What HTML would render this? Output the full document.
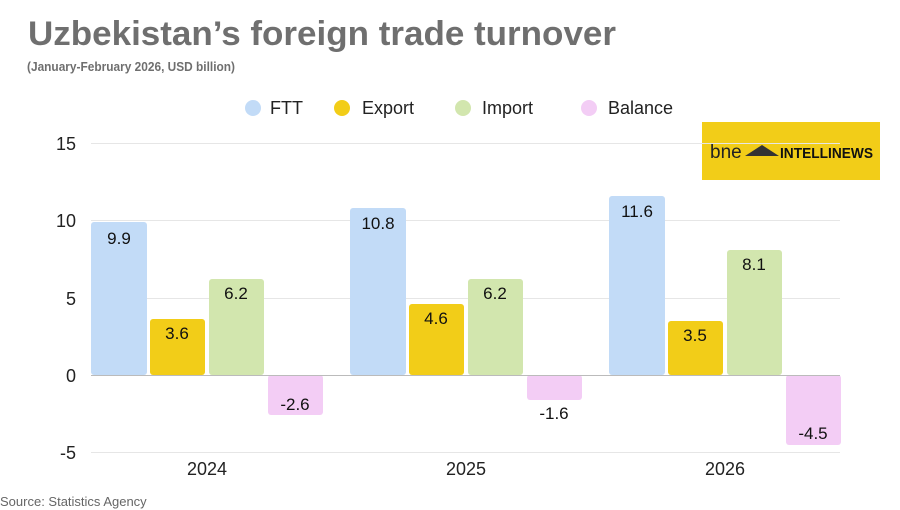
<!DOCTYPE html>
<html><head><meta charset="utf-8"><style>
html,body{margin:0;padding:0;background:#fff;}
svg{display:block;font-family:"Liberation Sans",sans-serif;}
</style></head><body>
<svg width="900" height="510" viewBox="0 0 900 510" xmlns="http://www.w3.org/2000/svg">
<rect width="900" height="510" fill="#fff"/>
<text x="28" y="45" font-size="34" font-weight="bold" fill="#6f6f6f" textLength="588" lengthAdjust="spacingAndGlyphs">Uzbekistan’s foreign trade turnover</text>
<text x="27" y="71" font-size="13" font-weight="bold" fill="#6f6f6f" textLength="208" lengthAdjust="spacingAndGlyphs">(January-February 2026, USD billion)</text>
<g font-size="18" fill="#222">
<circle cx="253" cy="108" r="8" fill="#c2dbf7"/><text x="270" y="114">FTT</text>
<circle cx="342" cy="108" r="8" fill="#f2cd18"/><text x="362" y="114">Export</text>
<circle cx="463" cy="108" r="8" fill="#d2e6ae"/><text x="482" y="114">Import</text>
<circle cx="589" cy="108" r="8" fill="#f3cdf5"/><text x="608" y="114">Balance</text>
</g>
<rect x="702" y="122" width="178" height="58" fill="#f2cd18"/>
<text x="710" y="158" font-size="19" fill="#222">bne</text>
<polygon points="745,156 762,145 779,156" fill="#333"/>
<text x="780" y="158" font-size="15" font-weight="bold" fill="#111" textLength="93" lengthAdjust="spacingAndGlyphs">INTELLINEWS</text>
<g stroke="#e6e6e6" stroke-width="1">
<line x1="91" y1="143.5" x2="840" y2="143.5"/>
<line x1="91" y1="220.5" x2="840" y2="220.5"/>
<line x1="91" y1="298.5" x2="840" y2="298.5"/>
<line x1="91" y1="452.5" x2="840" y2="452.5"/>
</g>
<g font-size="18" fill="#222" text-anchor="end">
<text x="76" y="150">15</text><text x="76" y="227">10</text><text x="76" y="305">5</text><text x="76" y="382">0</text><text x="76" y="459">-5</text>
</g>
<g font-size="17" fill="#111" text-anchor="middle">
<!-- 2024 -->
<rect x="91" y="222" width="56" height="153" rx="3" fill="#c2dbf7"/><text x="119" y="244">9.9</text>
<rect x="150" y="319" width="55" height="56" rx="3" fill="#f2cd18"/><text x="177" y="339">3.6</text>
<rect x="209" y="279" width="55" height="96" rx="3" fill="#d2e6ae"/><text x="236" y="299">6.2</text>
<rect x="268" y="375" width="55" height="40" rx="3" fill="#f3cdf5"/><text x="295" y="410">-2.6</text>
<!-- 2025 -->
<rect x="350" y="208" width="56" height="167" rx="3" fill="#c2dbf7"/><text x="378" y="229">10.8</text>
<rect x="409" y="304" width="55" height="71" rx="3" fill="#f2cd18"/><text x="436" y="324">4.6</text>
<rect x="468" y="279" width="55" height="96" rx="3" fill="#d2e6ae"/><text x="495" y="299">6.2</text>
<rect x="527" y="375" width="55" height="25" rx="3" fill="#f3cdf5"/><text x="554" y="419">-1.6</text>
<!-- 2026 -->
<rect x="609" y="196" width="56" height="179" rx="3" fill="#c2dbf7"/><text x="637" y="217">11.6</text>
<rect x="668" y="321" width="55" height="54" rx="3" fill="#f2cd18"/><text x="695" y="341">3.5</text>
<rect x="727" y="250" width="55" height="125" rx="3" fill="#d2e6ae"/><text x="754" y="270">8.1</text>
<rect x="786" y="375" width="55" height="70" rx="3" fill="#f3cdf5"/><text x="813" y="439">-4.5</text>
</g>
<line x1="91" y1="375.5" x2="840" y2="375.5" stroke="#bbb" stroke-width="1"/>
<g font-size="18" fill="#222" text-anchor="middle">
<text x="207" y="475">2024</text><text x="466" y="475">2025</text><text x="725" y="475">2026</text>
</g>
<text x="0" y="506" font-size="13" fill="#666">Source: Statistics Agency</text>
</svg>
</body></html>
